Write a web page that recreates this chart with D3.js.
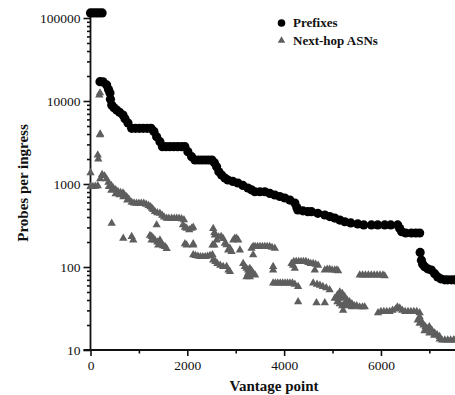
<!DOCTYPE html>
<html>
<head>
<meta charset="utf-8">
<script src="https://cdn.jsdelivr.net/npm/d3@7"></script>
<style>
  html, body { margin: 0; padding: 0; background: #fff; }
  svg { display: block; }
  text { font-family: "Liberation Serif", "Times New Roman", serif; fill: #111; }
</style>
</head>
<body>
<svg id="chart" width="455" height="395"></svg>
<script>
// ---- Data ----
const seriesNames = ["Prefixes", "Next-hop ASNs"];
const xTickValues = [0, 2000, 4000, 6000];
const xMinorTicks = [1000, 3000, 5000, 7000];
const yTickValues = [10, 100, 1000, 10000, 100000];

// Prefixes (black circles), sorted by vantage point
const prefixX = [0, 60, 120, 180, 240,
  196, 258, 334, 372, 402, 412, 438, 485, 541, 600, 671, 712, 774, 850,
  930, 1010, 1090, 1170, 1250, 1310, 1366, 1434, 1486,
  1560, 1640, 1720, 1800, 1880, 1950, 2012, 2089, 2157,
  2230, 2300, 2370, 2440, 2508, 2559, 2605, 2652, 2708, 2776, 2838, 2941, 3044, 3148, 3251, 3323,
  3396, 3499, 3602, 3705, 3808, 3911, 4014, 4118, 4221, 4262, 4283, 4386, 4489, 4565,
  4696, 4840, 4943, 5046, 5150, 5253, 5377, 5521, 5645, 5804, 5934, 6078, 6202, 6347,
  6388, 6429, 6512, 6630, 6720, 6800,
  6810, 6836, 6863, 6904, 6966, 7042, 7110, 7172, 7234, 7316, 7378, 7455, 7523];
const prefixY = [115000, 115000, 115000, 115000, 115000,
  17100, 17000, 15600, 13800, 12500, 10500, 8950, 8300, 7790, 7300, 6780, 6100, 5430, 4690,
  4690, 4690, 4690, 4690, 4690, 4300, 3715, 3235, 2815,
  2815, 2815, 2815, 2815, 2815, 2815, 2450, 2133, 1945,
  1945, 1945, 1945, 1945, 1945, 1800, 1616, 1400, 1283, 1180, 1117, 1075, 1028, 960, 895, 850,
  807, 807, 807, 770, 737, 707, 678, 640, 590, 520, 486, 475, 464, 464,
  443, 423, 405, 389, 368, 351, 340, 330, 321, 321, 321, 321, 321, 321,
  290, 266, 257, 257, 257, 257,
  150, 121, 108, 101, 95, 92, 83, 76, 72, 70, 70, 70, 70];

// Next-hop ASNs (gray triangles)
const asnX = [
  0, 0, 50, 100, 150, 161, 182, 196, 200, 196, 150, 200, 240, 290, 330, 370, 380, 430, 470, 430,
  520, 568, 620, 671, 700, 747, 790, 850, 900, 950, 1000, 1050, 1100, 1150, 1200, 1240, 1270,
  520, 600, 680, 760,
  438, 677, 850, 883,
  1228, 1263, 1296, 1331, 1380, 1434, 1470, 1500, 1540, 1573, 1263, 1400, 1366,
  1296, 1331, 1380, 1434, 1480, 1520, 1573, 1620, 1676, 1730, 1780, 1830, 1880, 1930,
  1909, 1950, 1986, 2040, 2089, 2122, 1986, 2122, 1950, 2122,
  2122, 2170, 2220, 2270, 2320, 2370, 2420, 2470, 2520,
  2535, 2560, 2570, 2605, 2650, 2700, 2740, 2776, 2811, 2844, 2880, 2914, 2950, 2982, 3018, 3051, 3086, 2520, 2560,
  2535, 2580, 2620, 2680, 2740, 2811, 2850, 2880,
  3154, 3189, 3224, 3257, 3292, 3327, 3360, 3257, 3224, 3292, 3400,
  3327, 3360, 3400, 3450, 3500, 3550, 3600, 3650, 3700, 3750, 3808, 3360, 3773, 3773,
  3773, 3820, 3870, 3920, 3970, 4020, 4070, 4120, 4170, 4221, 4289, 4289,
  4153, 4200, 4250, 4300, 4350, 4400, 4450, 4500, 4550, 4600, 4650, 4702, 4221, 4634, 4186,
  4600, 4680, 4740, 4800, 4870, 4940, 4668, 4840,
  4840, 4890, 4940, 4990, 5046, 5090, 5115,
  5046, 5100, 5150, 5200, 5250, 5300, 5350, 5400, 5450, 5500, 5560, 5620, 5666, 5100, 5150, 5200, 5250, 5300, 5400, 5120, 5180, 5218,
  5562, 5620, 5680, 5740, 5800, 5860, 5920, 5980, 6040, 6078,
  5940, 6000, 6060, 6120, 6180, 6240, 6300, 6340, 6388, 6440, 6500, 6560, 6620, 6680, 6740, 6800,
  6760, 6800, 6840, 6880, 6920, 6960, 7000, 7050, 7110, 7160, 7212, 6800, 6900, 7000, 7100, 7212,
  7260, 7320, 7380, 7440, 7500, 7530];
const asnY = [
  1360, 930, 930, 940, 2230, 2000, 11800, 12500, 4000, 3900, 950, 1150, 1300, 1250, 1150, 1050, 930, 960, 895, 840,
  850, 810, 790, 780, 740, 703, 660, 600, 590, 585, 585, 585, 585, 570, 550, 530, 510,
  760, 740, 700, 640,
  336, 222, 232, 211,
  240, 232, 222, 211, 200, 211, 190, 180, 176, 167, 211, 184, 321,
  490, 465, 450, 444, 420, 400, 386, 386, 386, 386, 386, 386, 380, 370,
  321, 300, 292, 280, 292, 300, 184, 184, 190, 190,
  140, 137, 135, 133, 133, 133, 135, 137, 140,
  290, 260, 243, 211, 230, 232, 220, 193, 185, 160, 168, 153, 211, 222, 222, 211, 160, 184, 184,
  121, 116, 110, 105, 101, 101, 92, 88,
  110, 101, 96, 92, 96, 90, 84, 84, 76, 76, 80,
  168, 176, 176, 176, 176, 176, 176, 176, 176, 172, 168, 140, 101, 92,
  64, 64, 64, 64, 64, 64, 64, 64, 64, 62, 58, 38,
  110, 116, 116, 116, 116, 116, 116, 113, 110, 110, 108, 105, 96, 92, 105,
  64, 62, 60, 58, 56, 53, 37, 37,
  92, 94, 94, 92, 92, 92, 90,
  42, 46, 50, 48, 44, 40, 38, 36, 34, 34, 33, 33, 33, 38, 36, 34, 36, 34, 33, 42, 42, 30,
  80, 80, 80, 80, 80, 80, 80, 80, 80, 78,
  28, 29, 29, 29, 29, 30, 31, 33, 32, 30, 29, 29, 29, 29, 29, 28,
  23, 21, 22, 20, 19, 18, 19, 17.4, 16, 15.2, 14.5, 25, 17, 16, 15, 13.5,
  13.2, 13.2, 13.2, 13.2, 13.2, 13.2];

const xLabel = "Vantage point";
const yLabel = "Probes per ingress";

// ---- Drawing ----
const svg = d3.select("#chart");
const W = 455, H = 395;
const margin = { left: 90.5, right: 0, top: 18, bottom: 45 };

const x = d3.scaleLinear().domain([0, 7530]).range([margin.left, W]);
const y = d3.scaleLog().domain([10, 100000]).range([H - margin.bottom, margin.top]);

const defs = svg.append("defs");
defs.append("clipPath").attr("id", "plotclip")
  .append("rect").attr("x", margin.left - 6).attr("y", 0)
  .attr("width", W - margin.left + 6).attr("height", H - margin.bottom + 6);

// Axes
const yAxis = d3.axisLeft(y).tickValues(yTickValues).tickFormat(d3.format("d")).tickSize(7).tickPadding(3);
const yMinor = [];
for (let e = 1; e <= 4; e++) for (let m = 2; m <= 9; m++) yMinor.push(m * Math.pow(10, e));
const yAxisMinor = d3.axisLeft(y).tickValues(yMinor).tickFormat("").tickSize(3.5);

const xAxis = d3.axisBottom(x).tickValues(xTickValues).tickFormat(d3.format("d")).tickSize(6).tickPadding(4);
const xAxisMinor = d3.axisBottom(x).tickValues(xMinorTicks).tickFormat("").tickSize(3.5);

svg.append("g").attr("transform", `translate(${margin.left},0)`).call(yAxis);
svg.append("g").attr("transform", `translate(${margin.left},0)`).call(yAxisMinor);
svg.append("g").attr("transform", `translate(0,${H - margin.bottom})`).call(xAxis);
svg.append("g").attr("transform", `translate(0,${H - margin.bottom})`).call(xAxisMinor);

svg.selectAll(".domain").remove();
svg.selectAll(".tick line").attr("stroke", "#111").attr("stroke-width", 1.6);
svg.selectAll(".tick text").attr("font-family", "Liberation Serif, serif").attr("font-size", 13.5).attr("fill", "#000");

// axis lines (y axis extends slightly above top decade)
svg.append("line").attr("x1", margin.left).attr("x2", margin.left)
  .attr("y1", H - margin.bottom + 1).attr("y2", y(100000) - 6)
  .attr("stroke", "#111").attr("stroke-width", 1.8);
svg.append("line").attr("x1", margin.left - 7).attr("x2", W)
  .attr("y1", H - margin.bottom).attr("y2", H - margin.bottom)
  .attr("stroke", "#111").attr("stroke-width", 1.8);

const plot = svg.append("g").attr("clip-path", "url(#plotclip)");

// Next-hop ASNs triangles
const tri = d3.symbol().type(d3.symbolTriangle).size(30);
const asnData = asnX.map((v, i) => [v, asnY[i]]);
plot.append("g").selectAll("path").data(asnData).join("path")
  .attr("d", tri)
  .attr("transform", d => `translate(${x(d[0])},${y(d[1])})`)
  .attr("fill", "#5e5e5e");

// Prefixes circles
const preData = prefixX.map((v, i) => [v, prefixY[i]]);
plot.append("g").selectAll("circle").data(preData).join("circle")
  .attr("cx", d => x(d[0])).attr("cy", d => y(d[1])).attr("r", 4.6)
  .attr("fill", "#000");

// Axis titles
svg.append("text").attr("x", 274).attr("y", 391).attr("text-anchor", "middle")
  .attr("font-size", 15).attr("font-weight", "bold").attr("fill", "#000").text(xLabel);
svg.append("text").attr("transform", `translate(28,${183}) rotate(-90)`).attr("text-anchor", "middle")
  .attr("font-size", 15).attr("font-weight", "bold").attr("fill", "#000").text(yLabel);

// Legend
const leg = svg.append("g");
leg.append("circle").attr("cx", 281.5).attr("cy", 23).attr("r", 3.8).attr("fill", "#000");
leg.append("path").attr("d", d3.symbol().type(d3.symbolTriangle).size(24))
  .attr("transform", "translate(281.5,40.5)").attr("fill", "#5e5e5e");
leg.append("text").attr("x", 293).attr("y", 27).attr("font-size", 13).attr("font-weight", "bold").attr("fill", "#000").text(seriesNames[0]);
leg.append("text").attr("x", 293).attr("y", 44.5).attr("font-size", 13).attr("font-weight", "bold").attr("fill", "#000").text(seriesNames[1]);
</script>
</body>
</html>
